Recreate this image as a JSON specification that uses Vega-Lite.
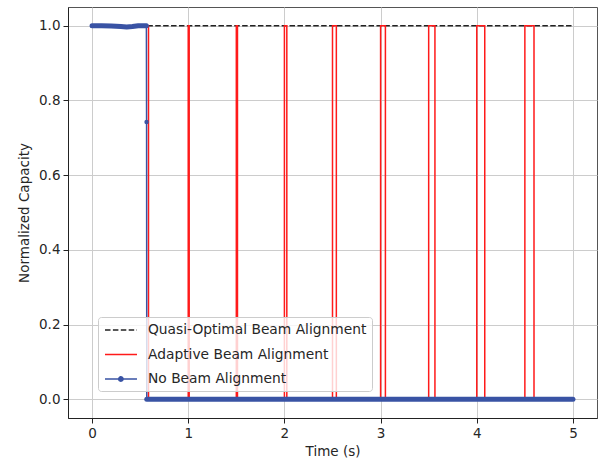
{
  "$schema": "https://vega.github.io/schema/vega-lite/v6.json",
  "width": 529,
  "height": 411,
  "autosize": {"type": "none"},
  "padding": {"left": 68, "top": 7, "right": 3, "bottom": 43},
  "config": {
    "font": "DejaVu Sans",
    "view": {"stroke": "#555555", "strokeWidth": 1},
    "axis": {
      "domainColor": "#222222",
      "domainWidth": 1,
      "tickColor": "#222222",
      "tickSize": 5,
      "tickWidth": 1,
      "gridColor": "#cccccc",
      "gridWidth": 1,
      "labelFont": "DejaVu Sans",
      "labelFontSize": 13.5,
      "labelColor": "#262626",
      "titleFont": "DejaVu Sans",
      "titleFontSize": 13.5,
      "titleFontWeight": "normal",
      "titleColor": "#262626"
    }
  },
  "datasets": {
    "quasi": [
      {"i": 0, "t": 0, "v": 1, "s": "Quasi-Optimal Beam Alignment"},
      {"i": 1, "t": 5, "v": 1, "s": "Quasi-Optimal Beam Alignment"}
    ],
    "adaptive": [
      {"i": 0, "t": 0, "v": 1, "s": "Adaptive Beam Alignment"},
      {"i": 1, "t": 0.587, "v": 1, "s": "Adaptive Beam Alignment"},
      {"i": 2, "t": 0.587, "v": 0, "s": "Adaptive Beam Alignment"},
      {"i": 3, "t": 1.0, "v": 0, "s": "Adaptive Beam Alignment"},
      {"i": 4, "t": 1.0, "v": 1, "s": "Adaptive Beam Alignment"},
      {"i": 5, "t": 1.01, "v": 1, "s": "Adaptive Beam Alignment"},
      {"i": 6, "t": 1.01, "v": 0, "s": "Adaptive Beam Alignment"},
      {"i": 7, "t": 1.5, "v": 0, "s": "Adaptive Beam Alignment"},
      {"i": 8, "t": 1.5, "v": 1, "s": "Adaptive Beam Alignment"},
      {"i": 9, "t": 1.512, "v": 1, "s": "Adaptive Beam Alignment"},
      {"i": 10, "t": 1.512, "v": 0, "s": "Adaptive Beam Alignment"},
      {"i": 11, "t": 2.0, "v": 0, "s": "Adaptive Beam Alignment"},
      {"i": 12, "t": 2.0, "v": 1, "s": "Adaptive Beam Alignment"},
      {"i": 13, "t": 2.025, "v": 1, "s": "Adaptive Beam Alignment"},
      {"i": 14, "t": 2.025, "v": 0, "s": "Adaptive Beam Alignment"},
      {"i": 15, "t": 2.5, "v": 0, "s": "Adaptive Beam Alignment"},
      {"i": 16, "t": 2.5, "v": 1, "s": "Adaptive Beam Alignment"},
      {"i": 17, "t": 2.54, "v": 1, "s": "Adaptive Beam Alignment"},
      {"i": 18, "t": 2.54, "v": 0, "s": "Adaptive Beam Alignment"},
      {"i": 19, "t": 3.0, "v": 0, "s": "Adaptive Beam Alignment"},
      {"i": 20, "t": 3.0, "v": 1, "s": "Adaptive Beam Alignment"},
      {"i": 21, "t": 3.05, "v": 1, "s": "Adaptive Beam Alignment"},
      {"i": 22, "t": 3.05, "v": 0, "s": "Adaptive Beam Alignment"},
      {"i": 23, "t": 3.5, "v": 0, "s": "Adaptive Beam Alignment"},
      {"i": 24, "t": 3.5, "v": 1, "s": "Adaptive Beam Alignment"},
      {"i": 25, "t": 3.565, "v": 1, "s": "Adaptive Beam Alignment"},
      {"i": 26, "t": 3.565, "v": 0, "s": "Adaptive Beam Alignment"},
      {"i": 27, "t": 4.0, "v": 0, "s": "Adaptive Beam Alignment"},
      {"i": 28, "t": 4.0, "v": 1, "s": "Adaptive Beam Alignment"},
      {"i": 29, "t": 4.083, "v": 1, "s": "Adaptive Beam Alignment"},
      {"i": 30, "t": 4.083, "v": 0, "s": "Adaptive Beam Alignment"},
      {"i": 31, "t": 4.5, "v": 0, "s": "Adaptive Beam Alignment"},
      {"i": 32, "t": 4.5, "v": 1, "s": "Adaptive Beam Alignment"},
      {"i": 33, "t": 4.595, "v": 1, "s": "Adaptive Beam Alignment"},
      {"i": 34, "t": 4.595, "v": 0, "s": "Adaptive Beam Alignment"},
      {"i": 35, "t": 5.0, "v": 0, "s": "Adaptive Beam Alignment"}
    ],
    "none": [
      {"i": 0, "t": 0, "v": 1, "s": "No Beam Alignment", "seg": "a"},
      {"i": 1, "t": 0.1, "v": 1, "s": "No Beam Alignment", "seg": "a"},
      {"i": 2, "t": 0.2, "v": 0.9993, "s": "No Beam Alignment", "seg": "a"},
      {"i": 3, "t": 0.3, "v": 0.9975, "s": "No Beam Alignment", "seg": "a"},
      {"i": 4, "t": 0.36, "v": 0.9965, "s": "No Beam Alignment", "seg": "a"},
      {"i": 5, "t": 0.42, "v": 0.998, "s": "No Beam Alignment", "seg": "a"},
      {"i": 6, "t": 0.48, "v": 1, "s": "No Beam Alignment", "seg": "a"},
      {"i": 7, "t": 0.565, "v": 1, "s": "No Beam Alignment", "seg": "a"},
      {"i": 8, "t": 0.567, "v": 0.742, "s": "No Beam Alignment", "seg": "drop"},
      {"i": 9, "t": 0.569, "v": 0, "s": "No Beam Alignment", "seg": "b"},
      {"i": 10, "t": 5.0, "v": 0, "s": "No Beam Alignment", "seg": "b"}
    ]
  },
  "encoding": {
    "x": {
      "field": "t", "type": "quantitative",
      "scale": {"domain": [-0.25, 5.25], "nice": false, "zero": false},
      "axis": {"values": [0, 1, 2, 3, 4, 5], "format": "d", "title": "Time (s)", "labelPadding": 3, "titlePadding": 5, "grid": true}
    },
    "y": {
      "field": "v", "type": "quantitative",
      "scale": {"domain": [-0.05, 1.05], "nice": false, "zero": false},
      "axis": {"values": [0, 0.2, 0.4, 0.6, 0.8, 1.0], "format": ".1f", "title": "Normalized Capacity", "labelPadding": 3, "titlePadding": 7, "grid": true}
    },
    "color": {
      "field": "s", "type": "nominal",
      "scale": {
        "domain": ["Quasi-Optimal Beam Alignment", "Adaptive Beam Alignment", "No Beam Alignment"],
        "range": ["#222222", "#ff1a1a", "#3953a4"]
      },
      "legend": {
        "title": null,
        "orient": "none",
        "legendX": 30,
        "legendY": 310,
        "padding": 5,
        "rowPadding": 9.5,
        "symbolSize": 196,
        "symbolStrokeWidth": 1.5,
        "labelOffset": 29,
        "labelLimit": 0,
        "labelFont": "DejaVu Sans",
        "labelFontSize": 13.8,
        "labelColor": "#262626",
        "fillColor": "rgba(255,255,255,0.8)",
        "strokeColor": "#cccccc",
        "cornerRadius": 3,
        "encode": {
          "symbols": {
            "update": {
              "shape": {"signal": "datum.value === 'No Beam Alignment' ? 'M-0.857,0L3.714,0M1.1,0A0.31,0.31,0,1,1,1.72,0A0.31,0.31,0,1,1,1.1,0Z' : 'M-0.857,0L3.714,0'"},
              "fill": {"signal": "datum.value === 'No Beam Alignment' ? '#3953a4' : 'transparent'"},
              "strokeDash": {"signal": "datum.value === 'Quasi-Optimal Beam Alignment' ? [5.5, 2.4] : [1, 0]"},
              "strokeWidth": {"value": 1.5},
              "opacity": {"value": 1}
            }
          }
        }
      }
    }
  },
  "layer": [
    {
      "data": {"name": "quasi"},
      "mark": {"type": "line", "strokeWidth": 1.5, "strokeDash": [5.5, 2.4]},
      "encoding": {"order": {"field": "i", "type": "quantitative"}}
    },
    {
      "data": {"name": "adaptive"},
      "mark": {"type": "line", "strokeWidth": 1.5},
      "encoding": {"order": {"field": "i", "type": "quantitative"}}
    },
    {
      "data": {"name": "none"},
      "mark": {"type": "line", "strokeWidth": 1.5},
      "encoding": {"order": {"field": "i", "type": "quantitative"}}
    },
    {
      "data": {"name": "none"},
      "transform": [{"filter": "datum.seg !== 'drop'"}],
      "mark": {"type": "line", "strokeWidth": 5, "strokeCap": "round", "strokeJoin": "round"},
      "encoding": {"order": {"field": "i", "type": "quantitative"}, "detail": {"field": "seg"}}
    },
    {
      "data": {"name": "none"},
      "transform": [{"filter": "datum.seg === 'drop'"}],
      "mark": {"type": "point", "filled": true, "size": 20, "opacity": 1, "shape": "circle"}
    }
  ]
}
